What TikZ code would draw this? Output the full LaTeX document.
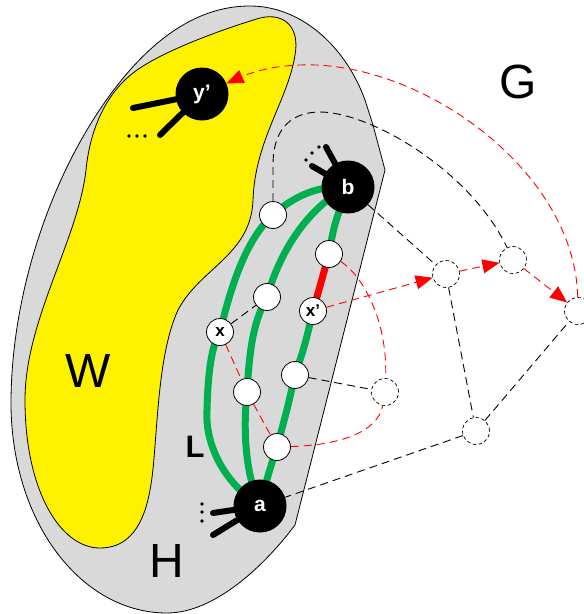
\documentclass[tikz,border=0pt]{standalone}
\usepackage{fontspec}
\setmainfont{Liberation Sans}
\usetikzlibrary{arrows.meta}
\pgfdeclarelayer{back}
\pgfdeclarelayer{edges}
\pgfsetlayers{back,edges,main}
\definecolor{grn}{HTML}{00B050}
\definecolor{hgray}{HTML}{D9D9D9}
\tikzset{
  bignode/.style={circle, fill=black, minimum size=53pt, inner sep=0pt, text=white, font=\bfseries\fontsize{21}{21}\selectfont},
  smallnode/.style={circle, draw=black, fill=white, line width=0.8pt, minimum size=27pt, inner sep=0pt, font=\bfseries\fontsize{17}{17}\selectfont},
  ghost/.style={circle, draw=black, dash pattern=on 3.5pt off 2.5pt, line width=0.7pt, minimum size=27pt, inner sep=0pt},
  blk/.style={draw=black, line width=0.9pt, dash pattern=on 8pt off 5pt},
  rd/.style={draw=red, line width=0.9pt, dash pattern=on 8pt off 5pt},
  rdarrow/.style={rd, -{Triangle[length=17pt,width=14pt,fill=red]}},
  stub/.style={line width=6pt, line cap=round},
  greenp/.style={draw=grn, line width=7pt},
  redp/.style={draw=red, line width=7pt},
  biglabel/.style={font=\fontsize{48}{48}\selectfont},
  dotmark/.style={fill=black},
}
\begin{document}
\begin{tikzpicture}[x=1pt,y=-1pt]
\useasboundingbox (0,0) rectangle (584,614);
\clip (0,0) rectangle (584,614);

% regions
\begin{pgfonlayer}{back}
\path[fill=hgray, draw=black, line width=0.8pt]
  (385,170) -- (295,525) .. controls (265,565) and (215,613) .. (167,613)
  .. controls (80,613) and (10,520) .. (11,400)
  .. controls (12,280) and (60,150) .. (130,70)
  .. controls (170,25) and (210,6) .. (250,6)
  .. controls (300,6) and (345,45) .. (365,100) -- (373,125) -- cycle;
\path[fill=yellow, draw=black, line width=0.8pt]
  (260,18) .. controls (285,12) and (300,28) .. (295,55)
  .. controls (288,100) and (255,140) .. (253,200)
  .. controls (251,255) and (200,268) .. (178,310)
  .. controls (155,360) and (158,450) .. (150,490)
  .. controls (142,535) and (122,548) .. (100,548)
  .. controls (60,548) and (25,490) .. (25,400)
  .. controls (25,320) and (78,240) .. (86,170)
  .. controls (90,130) and (105,95) .. (133,73)
  .. controls (160,52) and (220,30) .. cycle;
\end{pgfonlayer}

% labels
\node[biglabel] (G) at (518,82) {G};
\node[biglabel] (W) at (88,371) {W};
\node[biglabel] (H) at (167,561) {H};
\node[font=\bfseries\fontsize{31}{31}\selectfont] (L) at (195,447) {L};

% main nodes
\node[bignode] (yp) at (202,94) {y'};
\node[bignode] (b) at (348,187) {b};
\node[bignode] (a) at (260,506) {a};

\node[smallnode] (w1) at (273,215) {};
\node[smallnode] (w2) at (329,254) {};
\node[smallnode] (w3) at (267,297) {};
\node[smallnode] (xp) at (313,311) {x'};
\node[smallnode] (x) at (220,332) {x};
\node[smallnode] (w4) at (295,375) {};
\node[smallnode] (w5) at (247,392) {};
\node[smallnode] (w6) at (277,447) {};

\node[ghost] (d1) at (446,274) {};
\node[ghost] (d2) at (513,260) {};
\node[ghost] (d3) at (578,311) {};
\node[ghost] (d4) at (385,392) {};
\node[ghost] (d5) at (476,431) {};

% stub ends
\coordinate (ys1) at (133,108);
\coordinate (ys2) at (160,135);
\coordinate (bs1) at (312,166);
\coordinate (bs2) at (326,147);
\coordinate (as1) at (213,513);
\coordinate (as2) at (213,535);

\begin{pgfonlayer}{edges}
% stubs
\draw[stub] (yp.center) -- (ys1);
\draw[stub] (yp.center) -- (ys2);
\draw[stub] (b.center) -- (bs1);
\draw[stub] (b.center) -- (bs2);
\draw[stub] (a.center) -- (as1);
\draw[stub] (a.center) -- (as2);

% green paths
\draw[greenp] (a.center) .. controls (220,480) and (205,440) .. (207,410)
  .. controls (208,370) and (212,345) .. (x.center)
  .. controls (230,290) and (245,240) .. (w1.center)
  .. controls (295,195) and (320,185) .. (b.center);
\draw[greenp] (a.center) .. controls (248,480) and (242,440) .. (w5.center)
  .. controls (250,340) and (255,320) .. (w3.center)
  .. controls (282,245) and (312,205) .. (b.center);
\draw[greenp] (a.center) .. controls (268,475) .. (w6.center)
  .. controls (287,410) .. (w4.center)
  .. controls (305,345) .. (xp.center);
\draw[redp] (xp.center) -- (w2.center);
\draw[greenp] (w2.center) .. controls (334,225) .. (b.center);

% black dashed edges
\draw[blk] (w1) -- (273,165) .. controls (273,125) and (295,112) .. (320,112)
  .. controls (370,112) and (470,170) .. (d2);
\draw[blk] (b) -- (d1);
\draw[blk] (d1) -- (d5);
\draw[blk] (d5) -- (d3);
\draw[blk] (d5) -- (a);
\draw[blk] (w4) -- (d4);
\draw[blk] (x) -- (w3);

% red dashed edges
\draw[rd] (x) -- (w5);
\draw[rd] (w5) -- (w6);
\draw[rd] (w6) .. controls (340,445) and (378,432) .. (d4);
\draw[rd] (w2) .. controls (362,275) and (388,320) .. (d4);
\draw[rdarrow] (xp) -- (d1);
\draw[rdarrow] (d1) -- (d2);
\draw[rdarrow] (d2) -- (d3);
\draw[rdarrow] (d3) .. controls (575,170) and (420,60) .. (300,65)
  .. controls (268,66) and (248,74) .. (yp);
\end{pgfonlayer}

% small dots
\foreach \p in {(129,136),(137,136),(145,136)} \fill[dotmark] \p circle (1.8);
\foreach \p in {(306,160),(312,153),(319,147)} \fill[dotmark] \p circle (1.8);
\foreach \p in {(202,504),(202,512),(202,521)} \fill[dotmark] \p circle (1.8);
\end{tikzpicture}
\end{document}
